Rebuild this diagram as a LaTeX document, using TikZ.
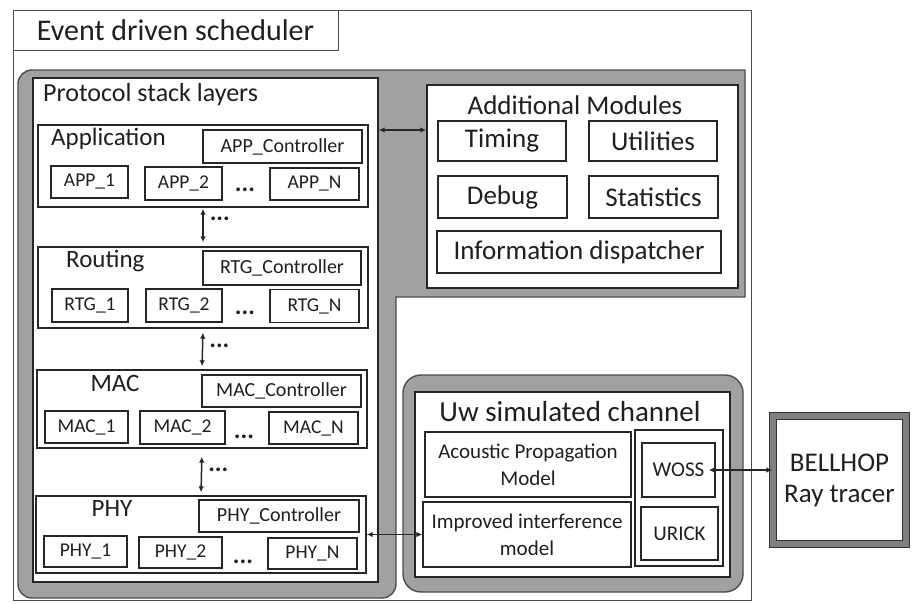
\documentclass[tikz,border=0pt]{standalone}
\usepackage{fontspec}
\setmainfont{Carlito}
\usetikzlibrary{arrows.meta}

\newcommand{\fnttitle}{\fontsize{30}{34}\selectfont}
\newcommand{\fnthead}{\fontsize{26}{30}\selectfont}
\newcommand{\fntlayer}{\fontsize{25}{28}\selectfont}
\newcommand{\fntctrl}{\fontsize{20}{24}\selectfont}
\newcommand{\fntunit}{\fontsize{19.5}{23}\selectfont}
\newcommand{\fntmod}{\fontsize{27}{30}\selectfont}
\newcommand{\fntchan}{\fontsize{29}{32}\selectfont}
\newcommand{\fntpart}{\fontsize{21}{27}\selectfont}
\newcommand{\fntbell}{\fontsize{27}{31}\selectfont}

\begin{document}
\begin{tikzpicture}[x=1pt, y=-1pt,
    box/.style={draw=black!85, line width=1.4pt, fill=white, inner sep=0pt, text=black!88},
    lbl/.style={inner sep=0pt, text=black!88},
    frm/.style={draw=black!70, fill=black!37, line width=1.4pt},
    link/.style={<->, >={Latex[length=6pt,width=5.5pt]}, line width=1.5pt, draw=black!85},
    dotlbl/.style={right=6pt, inner sep=0pt, text=black!88, font=\fntlayer\bfseries}
]
        \useasboundingbox (0,0) rectangle (916,603);

        % Scheduler frame
        \node[box, draw=black!70, line width=1pt, minimum width=738pt, minimum height=590pt] (sched) at (382,305) {};
        \node[box, draw=black!70, line width=1pt, minimum width=325pt, minimum height=40pt, font=\fnttitle] (title) at (175.5,30) {Event driven scheduler};

        % Grey frame round stack and modules
        \draw[frm] (18,300) [rounded corners=14pt] -- (18,70) [sharp corners] -- (745,70) -- (745,297) -- (396,297) [rounded corners=14pt] -- (396,598) -- (18,598) -- cycle;

        % Protocol stack
        \node[box, minimum width=345pt, minimum height=504pt] (stack) at (205.5,330) {};
        \node[lbl, anchor=west, font=\fnthead] (stacklbl) at (43,95) {Protocol stack layers};

        \node[box, minimum width=330pt, minimum height=82pt] (app) at (203,166) {};
        \node[lbl, anchor=west, font=\fntlayer] (applbl) at (51,139) {Application};
        \node[box, minimum width=159pt, minimum height=33pt, font=\fntctrl] (appctl) at (282.5,146.5) {APP\_Controller};
        \node[box, minimum width=77pt, minimum height=32pt, font=\fntunit] (app1) at (89.5,182) {APP\_1};
        \node[box, minimum width=77pt, minimum height=33pt, font=\fntunit] (app2) at (183.5,183.5) {APP\_2};
        \node[lbl, font=\fntlayer\bfseries] (appdots) at (245,190) {...};
        \node[box, minimum width=89pt, minimum height=32pt, font=\fntunit] (appn) at (314.5,184) {APP\_N};

        \node[box, minimum width=330pt, minimum height=81pt] (rtg) at (203,287.5) {};
        \node[lbl, anchor=west, font=\fntlayer] (rtglbl) at (66,261) {Routing};
        \node[box, minimum width=158pt, minimum height=34pt, font=\fntctrl] (rtgctl) at (282,268) {RTG\_Controller};
        \node[box, minimum width=76pt, minimum height=33pt, font=\fntunit] (rtg1) at (90,305.5) {RTG\_1};
        \node[box, minimum width=76pt, minimum height=33pt, font=\fntunit] (rtg2) at (184,305.5) {RTG\_2};
        \node[lbl, font=\fntlayer\bfseries] (rtgdots) at (245,313) {...};
        \node[box, minimum width=89pt, minimum height=33pt, font=\fntunit] (rtgn) at (314.5,306) {RTG\_N};

        \node[box, minimum width=330pt, minimum height=78pt] (mac) at (202,409) {};
        \node[lbl, font=\fntlayer] (maclbl) at (115,383) {MAC};
        \node[box, minimum width=159pt, minimum height=32pt, font=\fntctrl] (macctl) at (281.5,391) {MAC\_Controller};
        \node[box, minimum width=83pt, minimum height=32pt, font=\fntunit] (mac1) at (86.5,427) {MAC\_1};
        \node[box, minimum width=85pt, minimum height=33pt, font=\fntunit] (mac2) at (182.5,427.5) {MAC\_2};
        \node[lbl, font=\fntlayer\bfseries] (macdots) at (244,437) {...};
        \node[box, minimum width=89pt, minimum height=32pt, font=\fntunit] (macn) at (313.5,428) {MAC\_N};

        \node[box, minimum width=330pt, minimum height=77pt] (phy) at (201,534.5) {};
        \node[lbl, font=\fntlayer] (phylbl) at (112,508) {PHY};
        \node[box, minimum width=160pt, minimum height=32pt, font=\fntctrl] (phyctl) at (279,516) {PHY\_Controller};
        \node[box, minimum width=83pt, minimum height=31pt, font=\fntunit] (phy1) at (85.5,551.5) {PHY\_1};
        \node[box, minimum width=83pt, minimum height=31pt, font=\fntunit] (phy2) at (180.5,552.5) {PHY\_2};
        \node[lbl, font=\fntlayer\bfseries] (phydots) at (243,562) {...};
        \node[box, minimum width=89pt, minimum height=31pt, font=\fntunit] (phyn) at (312.5,553.5) {PHY\_N};

        % Additional modules
        \node[box, minimum width=311pt, minimum height=203pt] (addl) at (582.5,186.5) {};
        \node[lbl, font=\fntmod] (addllbl) at (575,105) {Additional Modules};
        \node[box, minimum width=128pt, minimum height=40pt, font=\fntmod] (timing) at (502,141) {Timing};
        \node[box, minimum width=128pt, minimum height=40pt, font=\fntmod] (util) at (653,141) {Utilities};
        \node[box, minimum width=129pt, minimum height=42pt, font=\fntmod] (debug) at (502.5,197) {Debug};
        \node[box, minimum width=129pt, minimum height=42pt, font=\fntmod] (stats) at (653.5,197) {Statistics};
        \node[box, minimum width=284pt, minimum height=42pt, font=\fntmod] (info) at (579,252) {Information dispatcher};

        % Channel
        \node[frm, rounded corners=18pt, minimum width=340pt, minimum height=217pt] (chanfrm) at (573,483.5) {};
        \node[box, minimum width=315pt, minimum height=185pt] (chan) at (572.5,484.5) {};
        \node[lbl, font=\fntchan] (chanlbl) at (570,412) {Uw simulated channel};
        \node[box, minimum width=206pt, minimum height=65pt, align=center, font=\fntpart] (acou) at (528,464.5) {Acoustic Propagation\\Model};
        \node[box, minimum width=208pt, minimum height=65pt, align=center, font=\fntpart] (impr) at (527,534.5) {Improved interference\\model};
        \node[box, minimum width=88pt, minimum height=136pt] (prop) at (679,498) {};
        \node[box, minimum width=73pt, minimum height=54pt, font=\fntpart] (woss) at (678.5,470) {WOSS};
        \node[box, minimum width=77pt, minimum height=53pt, font=\fntpart] (urick) at (679.5,533.5) {URICK};

        \node[box, draw=black!80, line width=1.2pt, double=black!50, double distance=6pt, minimum width=133pt, minimum height=128pt, align=center, font=\fntbell] (bell) at (839.5,480) {BELLHOP\\Ray tracer};

        % Links
        \coordinate (addlink) at (400,130);
        \draw[link] (stack.east |- addlink) -- (addl.west |- addlink);
        \draw[link, shorten <=1pt, shorten >=4pt] (app.south) -- node[dotlbl, pos=0.3] {...} (rtg.north);
        \draw[link, shorten <=4pt, shorten >=3pt] (rtg.south) -- node[dotlbl, pos=0.42] {...} (mac.north);
        \draw[link, shorten <=8pt, shorten >=3pt] (mac.south) -- node[dotlbl, pos=0.45] {...} (phy.north);
        \draw[link] (phy.east |- impr.west) -- (impr.west);
        \draw[link] ([xshift=-7pt]woss.east) -- (bell.west |- woss.east);
\end{tikzpicture}
\end{document}
